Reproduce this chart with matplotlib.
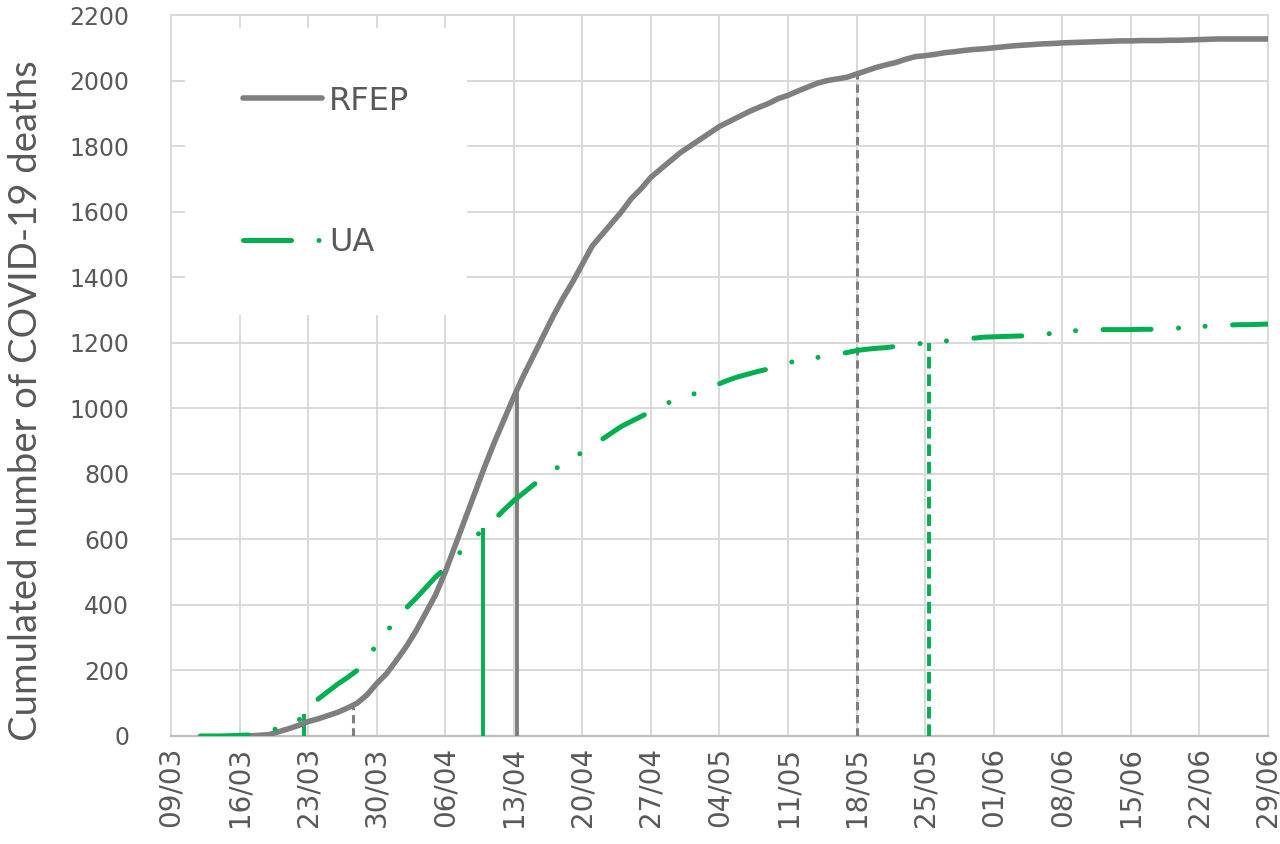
import numpy as np
import matplotlib
matplotlib.use("Agg")
import matplotlib.pyplot as plt

# days counted from 09/03
tick_labels = ['09/03', '16/03', '23/03', '30/03', '06/04', '13/04', '20/04', '27/04',
               '04/05', '11/05', '18/05', '25/05', '01/06', '08/06', '15/06', '22/06', '29/06']

rfep_day = np.arange(8, 113)
rfep_deaths = [0, 2, 4, 13, 22, 32, 44, 52, 62, 72, 85, 100, 125, 160, 190, 230, 272, 320,
               375, 430, 500, 580, 660, 740, 820, 895, 965, 1035, 1100, 1160, 1220, 1280,
               1335, 1385, 1440, 1495, 1530, 1565, 1600, 1640, 1670, 1705, 1730, 1755, 1780,
               1800, 1820, 1840, 1860, 1875, 1890, 1905, 1918, 1930, 1945, 1955, 1968, 1980,
               1992, 2000, 2005, 2010, 2020, 2030, 2040, 2048, 2055, 2065, 2073, 2076, 2080,
               2085, 2088, 2092, 2095, 2097, 2100, 2103, 2106, 2108, 2110, 2112, 2113, 2115,
               2116, 2117, 2118, 2119, 2120, 2121, 2121, 2122, 2122, 2122, 2123, 2123, 2124,
               2125, 2126, 2127, 2127, 2127, 2127, 2127, 2127]

ua_day = np.arange(3, 113)
ua_deaths = [0, 0, 0, 1, 2, 3, 5, 15, 24, 35, 46, 85, 112, 135, 158, 178, 200, 238, 278,
             318, 355, 390, 420, 452, 485, 512, 545, 575, 605, 635, 660, 690, 718, 742, 766,
             790, 810, 830, 850, 865, 885, 905, 925, 945, 960, 975, 990, 1005, 1020, 1030,
             1040, 1050, 1062, 1075, 1087, 1097, 1105, 1113, 1120, 1130, 1139, 1145, 1150,
             1155, 1160, 1165, 1170, 1176, 1180, 1183, 1185, 1189, 1193, 1196, 1199, 1202,
             1205, 1208, 1211, 1214, 1217, 1218, 1219, 1220, 1221, 1223, 1225, 1229, 1233,
             1236, 1238, 1239, 1240, 1240, 1240, 1240, 1241, 1241, 1242, 1243, 1245, 1247,
             1249, 1251, 1253, 1254, 1255, 1255, 1256, 1257]

# vertical markers: (day, height)
rfep_marks_day = [18.6, 35.3, 70.0]
rfep_marks_val = [90, 1066, 2022]
ua_marks_day = [13.6, 31.9, 77.4]
ua_marks_val = [68, 635, 1200]

GRAY = '#7f7f7f'
GREEN = '#00b050'
TXT = '#595959'

fig = plt.figure(figsize=(12.8, 8.44), dpi=100)
ax = fig.add_axes([0.1336, 0.128, 0.857, 0.8542])

l_rfep, = ax.plot(rfep_day, rfep_deaths, color=GRAY, lw=4.0, solid_capstyle='round',
                  label='RFEP', zorder=4)
l_ua, = ax.plot(ua_day, ua_deaths, color=GREEN, lw=3.6, dash_capstyle='round',
                linestyle=(0, (9.6, 5.5, 0.01, 5.3, 0.01, 5.5)), label='UA', zorder=4)

# marker lines
dash_gray = (0, (2.7, 1.6))
ax.vlines(rfep_marks_day[0], 0, rfep_marks_val[0], color=GRAY, lw=2.2, linestyles=dash_gray, zorder=3)
ax.vlines(rfep_marks_day[1], 0, rfep_marks_val[1], color=GRAY, lw=2.8, zorder=3)
ax.vlines(rfep_marks_day[2], 0, rfep_marks_val[2], color=GRAY, lw=2.2, linestyles=dash_gray, zorder=3)
ax.vlines(ua_marks_day[0], 0, ua_marks_val[0], color=GREEN, lw=2.8, zorder=3)
ax.vlines(ua_marks_day[1], 0, ua_marks_val[1], color=GREEN, lw=2.8, zorder=3)
ax.vlines(ua_marks_day[2], 0, ua_marks_val[2], color=GREEN, lw=2.8, linestyles=(0, (3, 1.5)), zorder=3)

ax.set_xlim(0, 112)
ax.set_ylim(0, 2200)
ax.set_xticks(np.arange(len(tick_labels)) * 7)
ax.set_xticklabels(tick_labels, rotation=90, fontsize=20, color=TXT)
ax.set_yticks(np.arange(0, 2201, 200))
ax.tick_params(axis='y', labelsize=17, labelcolor=TXT, length=0, pad=30)
ax.tick_params(axis='x', length=0, pad=8)

ax.grid(True, color='#d9d9d9', lw=1.4, zorder=0)
ax.set_axisbelow(True)
for s in ['top', 'right', 'left']:
    ax.spines[s].set_color('#d9d9d9')
    ax.spines[s].set_linewidth(1.4)
ax.spines['bottom'].set_color('#bfbfbf')
ax.spines['bottom'].set_linewidth(1.6)

ax.set_ylabel('Cumulated number of COVID-19 deaths', fontsize=27.5, color=TXT,
              family=['Lato', 'DejaVu Sans'])
ax.yaxis.set_label_coords(-0.1158, 0.465)

leg = ax.legend(handles=[l_rfep, l_ua], loc='upper left', bbox_to_anchor=(0.0128, 0.982),
                borderaxespad=0, borderpad=1.8, handlelength=2.5, handletextpad=0.2,
                labelspacing=3.45, fontsize=23, frameon=True, fancybox=False,
                facecolor='white', edgecolor='none', framealpha=1)
for t in leg.get_texts():
    t.set_color(TXT)

fig.savefig('out.png', dpi=100)
